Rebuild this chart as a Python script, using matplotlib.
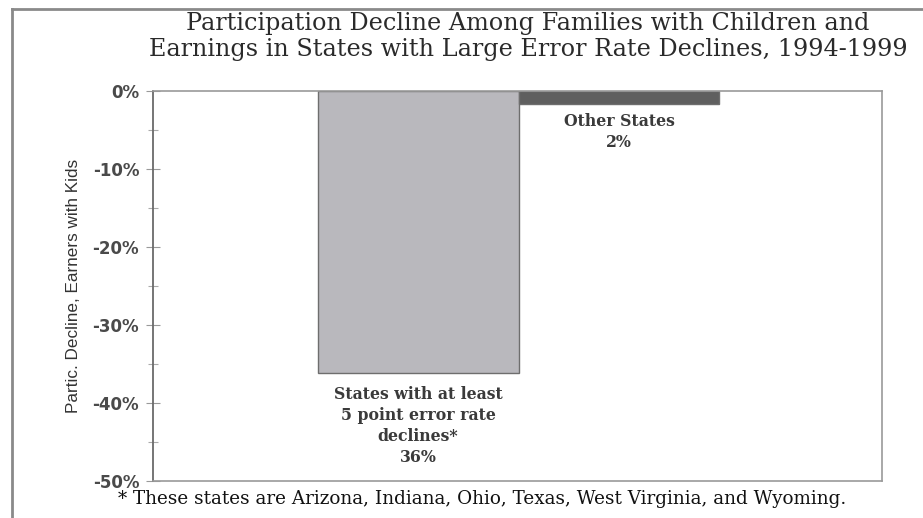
import matplotlib.pyplot as plt
from matplotlib.lines import Line2D
from matplotlib.ticker import MultipleLocator, FuncFormatter

# donnees
groups = ["States with at least\n5 point error rate\ndeclines*", "Other States"]
decline = [-36.2, -1.7]
value_labels = ["36%", "2%"]
bar_colors = ["#b9b8bd", "#5f5f5f"]
yticks = [0, -10, -20, -30, -40, -50]

title = ("Participation Decline Among Families with Children and\n"
         "Earnings in States with Large Error Rate Declines, 1994-1999")
footnote = "* These states are Arizona, Indiana, Ohio, Texas, West Virginia, and Wyoming."

fig = plt.figure(figsize=(9.23, 5.18), dpi=100)
ax = fig.add_axes([0.1658, 0.0714, 0.7898, 0.7529])

x = list(range(len(groups)))
ax.bar(x, decline, width=1.0, color=bar_colors, edgecolor="#6e6e6e", linewidth=1.0)

ax.set_xlim(-1.32, 2.31)
ax.set_ylim(-50, 0)
ax.set_xticks([])
ax.set_yticks(yticks)
ax.yaxis.set_minor_locator(MultipleLocator(5))
ax.yaxis.set_major_formatter(FuncFormatter(lambda v, p: f"{v:.0f}%"))
ax.tick_params(axis="y", which="major", direction="inout", length=10, width=0.8,
               color="#999999", labelsize=12, labelcolor="#4a4a4a", pad=5)
ax.tick_params(axis="y", which="minor", direction="inout", length=7, width=0.8,
               color="#aaaaaa")
for lab in ax.get_yticklabels():
    lab.set_fontfamily("DejaVu Sans")
    lab.set_fontweight("bold")

for side in ["top", "right", "bottom"]:
    ax.spines[side].set_color("#9a9a9a")
    ax.spines[side].set_linewidth(1.2)
ax.spines["left"].set_color("#6a6a6a")
ax.spines["left"].set_linewidth(1.3)

ax.set_ylabel("Partic. Decline, Earners with Kids", fontsize=12.3,
              family="Liberation Sans", color="#333333", labelpad=8)

# etiquettes des barres
ax.text(x[0], decline[0] - 1.6, groups[0] + "\n" + value_labels[0],
        ha="center", va="top", fontsize=11.3, fontweight="bold",
        family="DejaVu Serif", color="#3a3a3a", linespacing=1.3)
ax.text(x[1], decline[1] - 1.1, groups[1] + "\n" + value_labels[1],
        ha="center", va="top", fontsize=11.3, fontweight="bold",
        family="DejaVu Serif", color="#3a3a3a", linespacing=1.3)

fig.text(0.572, 0.9295, title, ha="center", va="center", fontsize=17.2,
         family="DejaVu Serif", color="#2a2a2a", linespacing=1.2)
fig.text(0.128, 0.037, footnote, ha="left", va="center", fontsize=13.2,
         family="DejaVu Serif", color="#111111")

# cadre de la figure
fig.add_artist(Line2D([0.013, 0.013], [0.0, 0.983], transform=fig.transFigure,
                      color="#8a8a8a", linewidth=2))
fig.add_artist(Line2D([0.013, 1.0], [0.983, 0.983], transform=fig.transFigure,
                      color="#8a8a8a", linewidth=2))

fig.savefig("out.png", dpi=100)
